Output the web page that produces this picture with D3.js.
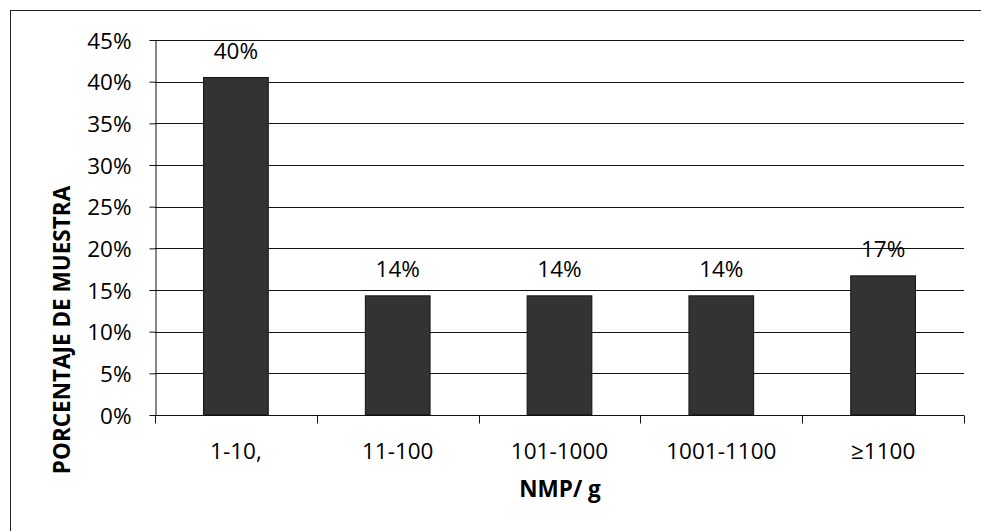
<!DOCTYPE html>
<html>
<head>
<meta charset="utf-8">
<script src="https://cdn.jsdelivr.net/npm/d3@7"></script>
<style>
  html, body { margin: 0; padding: 0; background: #fff; }
  svg { display: block; }
  text { font-family: "Open Sans", "Noto Sans", sans-serif; fill: #000; }
</style>
</head>
<body>
<svg id="chart" width="981" height="531"></svg>
<script>
const categories = ["1-10,", "11-100", "101-1000", "1001-1100", "\u22651100"];
const values = [0.405, 0.143, 0.143, 0.143, 0.167];
const valueLabels = ["40%", "14%", "14%", "14%", "17%"];
const yTicks = [0, 0.05, 0.10, 0.15, 0.20, 0.25, 0.30, 0.35, 0.40, 0.45];
const yTitle = "PORCENTAJE DE MUESTRA";
const xTitle = "NMP/ g";

const svg = d3.select("#chart");
const plot = { left: 155, right: 964, top: 40, bottom: 415 };
const FS = "22.5px";

// outer frame
svg.append("rect")
  .attr("x", 10.5).attr("y", 10.5)
  .attr("width", 990).attr("height", 540)
  .attr("fill", "none").attr("stroke", "#222").attr("stroke-width", 1);

const x = d3.scaleBand()
  .domain(categories)
  .range([plot.left, plot.right])
  .paddingInner(0.6)
  .paddingOuter(0.3);

const y = d3.scaleLinear()
  .domain([0, 0.45])
  .range([plot.bottom, plot.top]);

// gridlines
svg.append("g")
  .selectAll("line")
  .data(yTicks.filter(d => d > 0))
  .join("line")
  .attr("x1", plot.left).attr("x2", plot.right)
  .attr("y1", d => Math.round(y(d)) + 0.5).attr("y2", d => Math.round(y(d)) + 0.5)
  .attr("stroke", "#111").attr("stroke-width", 1.2);

// bars
svg.append("g")
  .selectAll("rect")
  .data(values)
  .join("rect")
  .attr("x", (d, i) => x(categories[i]))
  .attr("y", d => y(d))
  .attr("width", x.bandwidth())
  .attr("height", d => y(0) - y(d))
  .attr("fill", "#333333")
  .attr("stroke", "#111").attr("stroke-width", 1);

// y axis
const yAxis = d3.axisLeft(y)
  .tickValues(yTicks)
  .tickFormat(d3.format(".0%"))
  .tickSize(6)
  .tickSizeOuter(0)
  .tickPadding(18);
const gy = svg.append("g")
  .attr("transform", `translate(${plot.left + 0.5},0)`)
  .call(yAxis);
gy.select(".domain").attr("stroke", "#111");
gy.selectAll(".tick line").attr("stroke", "#111");
gy.selectAll(".tick text")
  .style("font-size", FS)
  .attr("fill", "#000")
  .attr("dy", "0.36em");

// x axis with ticks at category boundaries
const gx = svg.append("g")
  .attr("transform", `translate(0,${plot.bottom + 0.5})`);
gx.append("line")
  .attr("x1", plot.left).attr("x2", plot.right)
  .attr("stroke", "#111").attr("stroke-width", 1.2);
const step = x.step();
const boundaries = categories.map(c => x(c) - x.paddingOuter() * step).concat([plot.right]);
gx.selectAll("line.tk")
  .data(boundaries)
  .join("line")
  .attr("class", "tk")
  .attr("x1", d => Math.round(d) + 0.5).attr("x2", d => Math.round(d) + 0.5)
  .attr("y1", 0).attr("y2", 8)
  .attr("stroke", "#111");
gx.selectAll("text")
  .data(categories)
  .join("text")
  .attr("x", d => x(d) + x.bandwidth() / 2)
  .attr("y", 43)
  .attr("text-anchor", "middle")
  .style("font-size", FS)
  .text(d => d);

// value labels
svg.append("g")
  .selectAll("text")
  .data(values)
  .join("text")
  .attr("x", (d, i) => x(categories[i]) + x.bandwidth() / 2)
  .attr("y", d => y(d) - 19)
  .attr("text-anchor", "middle")
  .style("font-size", FS)
  .text((d, i) => valueLabels[i]);

// axis titles
svg.append("text")
  .attr("transform", `translate(70,330) rotate(-90)`)
  .attr("text-anchor", "middle")
  .style("font-size", FS)
  .style("font-weight", "bold")
  .text(yTitle);

svg.append("text")
  .attr("x", 560)
  .attr("y", 497)
  .attr("text-anchor", "middle")
  .style("font-size", FS)
  .style("font-weight", "bold")
  .text(xTitle);
</script>
</body>
</html>
